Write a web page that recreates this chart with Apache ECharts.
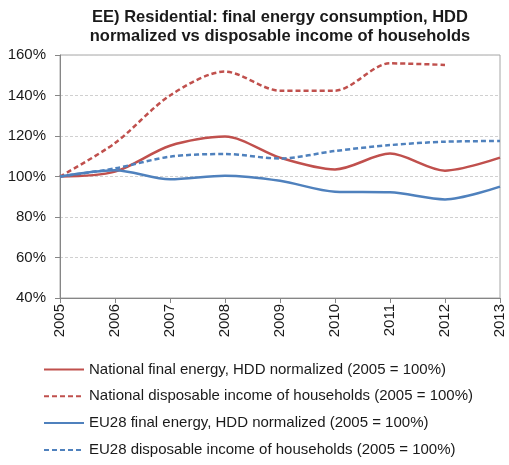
<!DOCTYPE html>
<html>
<head>
<meta charset="utf-8">
<script src="https://cdn.jsdelivr.net/npm/echarts@6/dist/echarts.min.js"></script>
<style>
  html, body { margin: 0; padding: 0; background: #fff; }
  #chart { width: 509px; height: 465px; }
</style>
</head>
<body>
<div id="chart"></div>
<script>
// years on the x axis
const years = ['2005', '2006', '2007', '2008', '2009', '2010', '2011', '2012', '2013'];

// values in % (2005 = 100)
const nationalEnergy = [100, 102.4, 115.2, 119.7, 109.3, 103.5, 111.3, 102.9, 109.3];
const nationalIncome = [100, 116.5, 140, 151.8, 142.4, 142.4, 155.9, 155.1, null];
const euEnergy = [100, 103.1, 98.6, 100.4, 97.9, 92.5, 92.2, 88.7, 95];
const euIncome = [100, 104, 109.8, 111.1, 108.9, 112.6, 115.5, 117.2, 117.5];

const names = [
  'National final energy, HDD normalized (2005 = 100%)',
  'National disposable income of households (2005 = 100%)',
  'EU28 final energy, HDD normalized (2005 = 100%)',
  'EU28 disposable income of households (2005 = 100%)'
];

const RED = '#c0504d';
const BLUE = '#4f81bd';

function mkLine(name, data, color, dashed) {
  return {
    name: name,
    type: 'line',
    data: data,
    smooth: 0.3,
    symbol: 'none',
    connectNulls: false,
    lineStyle: {
      color: color,
      width: 2.5,
      type: dashed ? [5, 3] : 'solid'
    },
    itemStyle: { color: color }
  };
}

const chart = echarts.init(document.getElementById('chart'));

chart.setOption({
  animation: false,
  textStyle: { fontFamily: 'Liberation Sans, Arial, sans-serif' },
  title: {
    text: 'EE) Residential: final energy consumption, HDD\nnormalized vs disposable income of households',
    left: 275,
    top: 3,
    textAlign: 'center',
    textStyle: {
      fontSize: 16.5,
      fontWeight: 'bold',
      color: '#1a1a1a',
      lineHeight: 19
    }
  },
  grid: {
    left: 60,
    right: 9,
    top: 55,
    bottom: 167,
    show: true,
    borderColor: '#a6a6a6',
    borderWidth: 1
  },
  legend: {
    orient: 'vertical',
    left: 43,
    top: 362,
    height: 103,
    itemWidth: 40,
    itemHeight: 14,
    itemGap: 11.8,
    padding: 0,
    itemStyle: { opacity: 0 },
    textStyle: { fontSize: 15, color: '#1a1a1a' },
    data: names
  },
  xAxis: {
    type: 'category',
    data: years,
    boundaryGap: false,
    axisLine: { lineStyle: { color: '#868686', width: 1 } },
    axisTick: { alignWithLabel: true, length: 5, lineStyle: { color: '#868686' } },
    axisLabel: { rotate: 90, fontSize: 15, color: '#1a1a1a', margin: 6 },
    splitLine: { show: false }
  },
  yAxis: {
    type: 'value',
    min: 40,
    max: 160,
    interval: 20,
    axisLine: { show: true, lineStyle: { color: '#868686', width: 1 } },
    axisTick: { show: true, length: 5, lineStyle: { color: '#868686' } },
    axisLabel: {
      fontSize: 15,
      color: '#1a1a1a',
      margin: 14,
      formatter: function (v) { return v + '%'; }
    },
    splitLine: { lineStyle: { color: '#d0d0d0', type: [3, 2] } }
  },
  series: [
    mkLine(names[0], nationalEnergy, RED, false),
    mkLine(names[1], nationalIncome, RED, true),
    mkLine(names[2], euEnergy, BLUE, false),
    mkLine(names[3], euIncome, BLUE, true)
  ]
});
</script>
</body>
</html>
